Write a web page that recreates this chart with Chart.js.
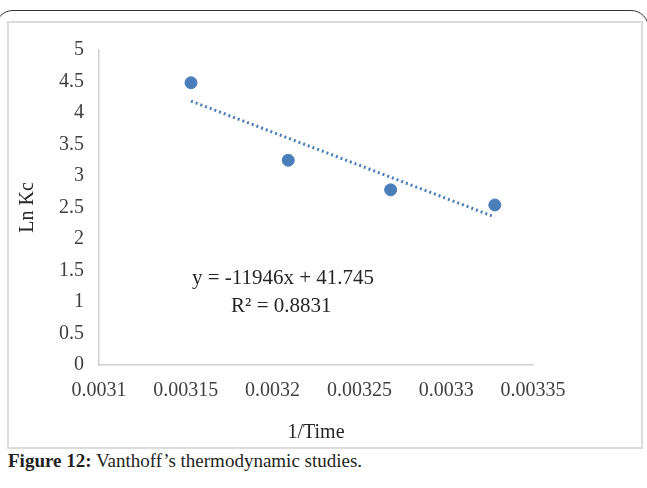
<!DOCTYPE html>
<html>
<head>
<meta charset="utf-8">
<script src="https://cdn.jsdelivr.net/npm/chart.js@4/dist/chart.umd.min.js"></script>
<style>
  body { margin: 0; background: #fff; width: 647px; height: 488px; overflow: hidden; position: relative; font-family: "Liberation Serif", serif; }
  .frame { position: absolute; left: -5px; top: 10px; width: 654px; height: 600px; border: 1.5px solid #333; border-radius: 18px; box-sizing: border-box; }
  .box { position: absolute; left: 7px; top: 21px; width: 636px; height: 428px; border: 2px solid #dcdcdc; box-sizing: border-box; background: #fff; }
  #chart { position: absolute; left: 9px; top: 23px; }
  .caption { position: absolute; left: 8px; top: 450px; font-size: 19px; color: #231f20; }
</style>
</head>
<body>
<div class="frame"></div>
<div class="box"></div>
<canvas id="chart" width="632" height="424"></canvas>
<div class="caption"><b>Figure 12:</b> Vanthoff’s thermodynamic studies.</div>
<script>
// 1/T values and ln Kc
const invTime = [0.003153, 0.003209, 0.003268, 0.003328];
const lnKc = [4.48, 3.25, 2.78, 2.54];
// linear trendline end points
const trendX = [0.003153, 0.003328];
const trendY = [4.19, 2.35];
const xTicks = [0.0031, 0.00315, 0.0032, 0.00325, 0.0033, 0.00335];
const yTicks = [0, 0.5, 1, 1.5, 2, 2.5, 3, 3.5, 4, 4.5, 5];
const eqLines = ['y = -11946x + 41.745', 'R² = 0.8831'];

const blue = '#4a7ebb';
const axisGray = '#d0d0d0';
const font = { family: 'Liberation Serif', size: 20 };

const eqPlugin = {
  id: 'eqText',
  afterDatasetsDraw(chart) {
    const ctx = chart.ctx;
    const x = chart.scales.x, y = chart.scales.y;
    ctx.save();
    ctx.font = '21px "Liberation Serif"';
    ctx.fillStyle = '#262626';
    ctx.textAlign = 'center';
    ctx.textBaseline = 'middle';
    ctx.fillText(eqLines[0], x.getPixelForValue(0.003206), y.getPixelForValue(1.37));
    ctx.fillText(eqLines[1], x.getPixelForValue(0.003205), y.getPixelForValue(0.93));
    ctx.restore();
  }
};

new Chart(document.getElementById('chart'), {
  type: 'scatter',
  data: {
    datasets: [{
      data: invTime.map((v, i) => ({ x: v, y: lnKc[i] })),
      backgroundColor: blue,
      borderColor: blue,
      pointRadius: 6,
      pointHoverRadius: 6
    }, {
      type: 'line',
      data: trendX.map((v, i) => ({ x: v, y: trendY[i] })),
      borderColor: blue,
      borderWidth: 3,
      borderDash: [2, 3],
      pointRadius: 0,
      fill: false
    }]
  },
  options: {
    responsive: false,
    animation: false,
    layout: { padding: { left: 0, right: 108, top: 21, bottom: 0 } },
    plugins: { legend: { display: false }, tooltip: { enabled: false } },
    scales: {
      x: {
        type: 'linear',
        min: 0.0031,
        max: 0.00335,
        afterBuildTicks: s => { s.ticks = xTicks.map(v => ({ value: v })); },
        afterFit: s => { s.height = 82; },
        grid: { display: false, drawTicks: false },
        border: { color: axisGray, width: 1.5 },
        ticks: { font: font, color: '#404040', padding: 14, maxRotation: 0, callback: v => String(v) },
        title: { display: true, text: '1/Time', font: font, color: '#262626', padding: { top: 10, bottom: 2 } }
      },
      y: {
        min: 0,
        max: 5,
        afterBuildTicks: s => { s.ticks = yTicks.map(v => ({ value: v })); },
        afterFit: s => { s.width = 90; },
        grid: { display: false, drawTicks: false },
        border: { color: axisGray, width: 1.5 },
        ticks: { font: font, color: '#404040', padding: 15, callback: v => String(v) },
        title: { display: true, text: 'Ln Kc', font: font, color: '#262626', padding: { top: 7, bottom: 0 } }
      }
    }
  },
  plugins: [eqPlugin]
});
</script>
</body>
</html>
